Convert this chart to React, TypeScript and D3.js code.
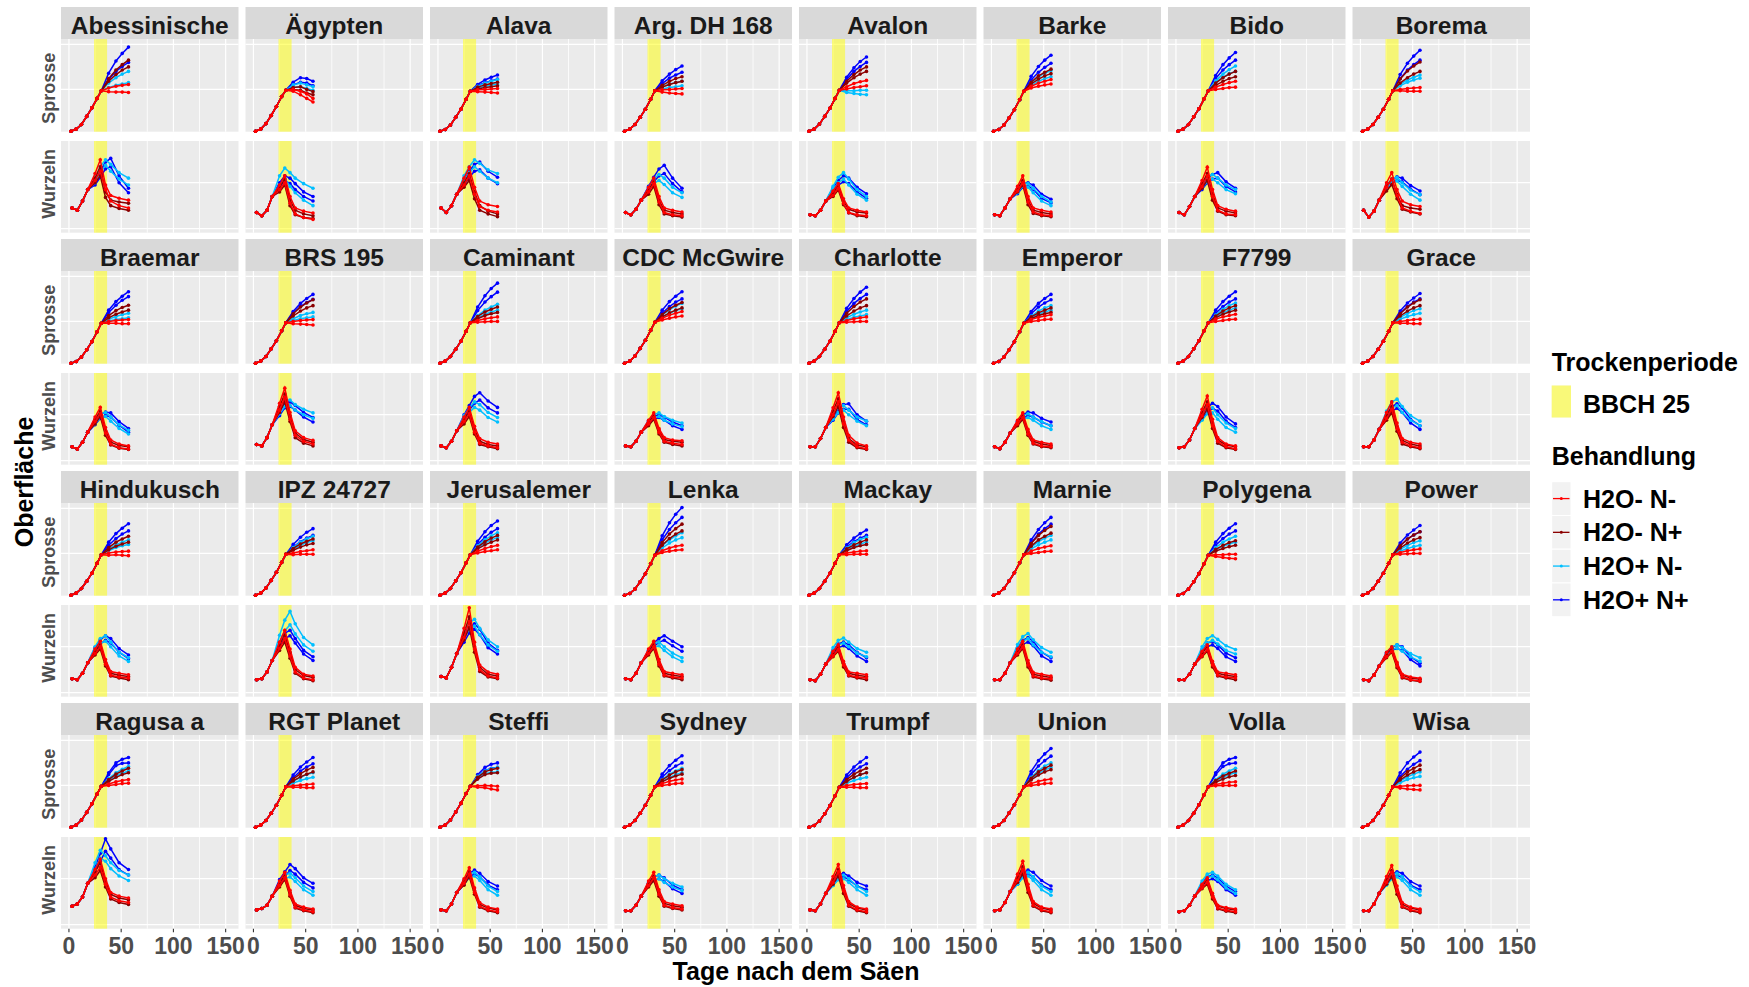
import React from "react";
import * as d3 from "d3";

const GENOTYPES = [
  "Abessinische", "Ägypten", "Alava", "Arg. DH 168", "Avalon", "Barke", "Bido", "Borema",
  "Braemar", "BRS 195", "Caminant", "CDC McGwire", "Charlotte", "Emperor", "F7799", "Grace",
  "Hindukusch", "IPZ 24727", "Jerusalemer", "Lenka", "Mackay", "Marnie", "Polygena", "Power",
  "Ragusa a", "RGT Planet", "Steffi", "Sydney", "Trumpf", "Union", "Volla", "Wisa",
];
const TREATMENTS = ["H2O- N-", "H2O- N+", "H2O+ N-", "H2O+ N+"];
const TREATMENT_COLORS = ["#FF0000", "#8B0000", "#00BFFF", "#0000FF"];
const ORGANS = ["Sprosse", "Wurzeln"];
const X_TICKS = [0, 50, 100, 150];
const X_GRID = [0, 25, 50, 75, 100, 125, 150];
const DROUGHT = [24, 36.5];
const SHOOT_GRID = [100, 200];
const ROOT_GRID = [0, 100];

const SHOOT_DAYS_EARLY = [2, 7, 12, 17, 22, 27, 31];
const SHOOT_DAYS_LATE = [38, 45, 51, 57];
const ROOT_DAYS_EARLY = [3, 8, 13, 18];
const ROOT_DAYS_LATE = [25, 30, 35, 40, 48, 57];

// shoot area, shared part (all treatments), one row per genotype
const SHOOT_EARLY = [
  [7, 12, 22, 40, 59, 80, 97], [7, 12, 24, 42, 62, 84, 98], [7, 11, 21, 38, 56, 78, 96], [7, 12, 22, 38, 56, 78, 97],
  [7, 12, 23, 40, 58, 80, 98], [7, 11, 21, 37, 55, 77, 96], [7, 12, 22, 39, 57, 79, 97], [7, 12, 22, 38, 56, 78, 97],
  [7, 11, 21, 37, 55, 77, 96], [7, 12, 22, 39, 57, 79, 97], [7, 12, 22, 38, 56, 78, 97], [7, 12, 23, 40, 58, 80, 98],
  [7, 12, 22, 38, 56, 78, 97], [7, 11, 21, 37, 55, 77, 96], [7, 12, 22, 39, 57, 79, 97], [7, 12, 22, 38, 56, 78, 97],
  [7, 12, 22, 38, 56, 78, 97], [7, 12, 23, 40, 58, 80, 98], [7, 12, 22, 39, 57, 79, 97], [7, 11, 21, 37, 55, 77, 96],
  [7, 12, 22, 38, 56, 78, 97], [7, 12, 22, 39, 57, 79, 97], [7, 11, 21, 37, 55, 77, 96], [7, 12, 22, 38, 56, 78, 97],
  [7, 12, 23, 40, 59, 81, 98], [7, 12, 22, 38, 56, 78, 97], [7, 12, 23, 41, 60, 82, 98], [7, 12, 22, 38, 56, 78, 97],
  [7, 11, 21, 37, 55, 77, 96], [7, 12, 22, 39, 57, 79, 97], [7, 12, 22, 38, 57, 79, 97], [7, 12, 22, 38, 56, 78, 97],
];

// shoot area after day 31: per genotype [replicate A (4 days), replicate B (4 days)]
const SHOOT_DRY_NMINUS = [
  [95, 94, 94, 93, 103, 107, 109, 111], [96, 88, 80, 72, 100, 96, 90, 80], [95, 94, 93, 92, 99, 100, 101, 102], [94, 92, 91, 90, 99, 100, 101, 102],
  [101, 104, 106, 108, 106, 113, 117, 120], [103, 107, 110, 112, 107, 114, 118, 122], [100, 102, 104, 105, 105, 111, 115, 118], [97, 96, 96, 96, 100, 102, 103, 104],
  [96, 96, 95, 95, 100, 102, 103, 104], [95, 94, 93, 92, 100, 102, 103, 104], [98, 99, 100, 100, 102, 106, 108, 110], [103, 107, 110, 112, 107, 114, 118, 122],
  [98, 99, 100, 100, 102, 106, 108, 110], [100, 102, 104, 105, 104, 109, 112, 115], [100, 102, 104, 105, 105, 110, 113, 116], [96, 96, 95, 95, 100, 102, 104, 105],
  [96, 97, 96, 95, 101, 103, 104, 105], [97, 98, 98, 98, 101, 104, 106, 108], [101, 104, 106, 108, 105, 111, 115, 118], [102, 105, 107, 108, 106, 112, 116, 118],
  [97, 98, 98, 98, 101, 103, 105, 106], [100, 102, 104, 105, 105, 111, 114, 117], [93, 91, 89, 88, 97, 97, 98, 98], [98, 99, 100, 100, 102, 106, 108, 110],
  [100, 102, 104, 105, 103, 108, 111, 113], [96, 96, 95, 95, 99, 101, 102, 103], [96, 95, 92, 90, 99, 100, 99, 98], [100, 102, 104, 105, 104, 109, 112, 114],
  [96, 96, 95, 95, 100, 102, 103, 104], [100, 102, 104, 105, 104, 109, 112, 114], [99, 100, 100, 100, 102, 105, 107, 108], [94, 92, 91, 90, 98, 99, 100, 100],
];
const SHOOT_DRY_NPLUS = [
  [118, 133, 143, 150, 124, 143, 155, 165], [100, 98, 92, 88, 104, 106, 100, 95], [101, 104, 106, 108, 105, 110, 113, 116], [105, 111, 115, 118, 109, 118, 124, 128],
  [114, 126, 134, 140, 118, 133, 143, 150], [112, 123, 130, 135, 116, 130, 138, 145], [109, 118, 124, 128, 114, 126, 134, 140], [114, 126, 134, 140, 123, 141, 152, 161],
  [108, 116, 121, 125, 113, 124, 131, 136], [112, 123, 130, 135, 117, 132, 141, 148], [106, 113, 117, 120, 111, 121, 127, 132], [110, 119, 125, 130, 115, 128, 136, 142],
  [112, 123, 130, 135, 118, 133, 143, 150], [106, 113, 117, 120, 110, 119, 125, 130], [108, 116, 121, 125, 112, 123, 130, 135], [112, 123, 130, 135, 117, 132, 141, 148],
  [108, 116, 121, 125, 113, 125, 132, 138], [107, 114, 119, 122, 111, 121, 127, 132], [110, 119, 125, 130, 114, 126, 134, 140], [118, 133, 143, 150, 124, 143, 155, 165],
  [106, 113, 117, 120, 110, 119, 125, 130], [116, 130, 138, 145, 122, 140, 151, 160], [105, 111, 115, 118, 109, 118, 124, 128], [112, 123, 130, 135, 117, 132, 141, 148],
  [109, 118, 124, 128, 113, 125, 132, 138], [110, 119, 125, 130, 114, 126, 134, 140], [114, 124, 127, 128, 118, 130, 135, 138], [108, 116, 121, 125, 112, 123, 130, 135],
  [109, 118, 124, 128, 113, 125, 132, 138], [112, 123, 130, 135, 116, 130, 138, 145], [107, 114, 119, 122, 111, 121, 127, 132], [112, 123, 130, 135, 116, 130, 138, 145],
];
const SHOOT_WET_NMINUS = [
  [104, 109, 112, 115, 114, 126, 134, 140], [104, 106, 102, 98, 110, 114, 110, 106], [103, 107, 110, 112, 107, 114, 118, 122], [101, 104, 106, 108, 106, 112, 115, 118],
  [93, 91, 89, 88, 97, 97, 98, 98], [109, 118, 124, 128, 115, 128, 136, 142], [116, 127, 135, 140, 119, 134, 144, 152], [108, 116, 121, 125, 111, 121, 127, 132],
  [101, 104, 106, 108, 105, 111, 115, 118], [102, 106, 108, 110, 106, 113, 117, 120], [108, 116, 121, 125, 113, 125, 132, 138], [109, 118, 124, 128, 114, 126, 134, 140],
  [104, 109, 112, 115, 108, 116, 121, 125], [108, 116, 121, 125, 112, 123, 130, 135], [110, 119, 125, 130, 114, 127, 135, 141], [105, 111, 115, 118, 109, 118, 124, 128],
  [106, 113, 117, 120, 110, 119, 125, 130], [109, 118, 124, 128, 113, 125, 132, 138], [112, 123, 130, 135, 117, 130, 139, 146], [112, 123, 130, 135, 117, 130, 139, 146],
  [108, 116, 121, 125, 112, 124, 131, 136], [110, 119, 125, 130, 114, 126, 134, 140], [108, 116, 121, 125, 113, 125, 132, 138], [105, 111, 115, 118, 109, 118, 124, 128],
  [111, 121, 127, 132, 115, 128, 136, 142], [105, 111, 115, 118, 109, 118, 124, 128], [116, 126, 129, 130, 120, 132, 137, 140], [109, 118, 124, 128, 113, 125, 132, 138],
  [105, 111, 115, 118, 109, 118, 124, 128], [114, 126, 134, 140, 118, 133, 143, 150], [109, 118, 124, 128, 113, 125, 132, 138], [106, 113, 117, 120, 110, 119, 125, 130],
];
const SHOOT_WET_NPLUS = [
  [122, 140, 151, 160, 136, 163, 180, 194], [110, 116, 114, 108, 116, 126, 124, 118], [109, 115, 119, 123, 111, 121, 127, 132], [113, 125, 132, 138, 119, 134, 144, 152],
  [122, 140, 151, 160, 127, 148, 162, 172], [121, 138, 149, 158, 129, 151, 165, 176], [124, 143, 155, 165, 131, 155, 170, 182], [124, 143, 155, 165, 133, 158, 174, 187],
  [120, 136, 147, 155, 125, 144, 156, 166], [118, 133, 142, 149, 122, 140, 151, 160], [124, 143, 155, 165, 132, 157, 173, 185], [118, 133, 143, 150, 125, 144, 156, 166],
  [122, 140, 151, 160, 129, 151, 165, 176], [117, 132, 141, 148, 122, 140, 151, 160], [118, 133, 143, 150, 125, 144, 156, 166], [118, 133, 143, 150, 123, 141, 152, 162],
  [118, 133, 143, 150, 125, 144, 156, 166], [114, 126, 134, 140, 120, 136, 147, 155], [120, 136, 147, 155, 127, 148, 162, 172], [130, 153, 168, 180, 139, 168, 187, 202],
  [114, 126, 134, 140, 119, 134, 144, 152], [124, 143, 155, 165, 130, 153, 168, 180], [118, 133, 143, 150, 125, 144, 156, 166], [117, 132, 141, 148, 123, 141, 152, 162],
  [124, 144, 149, 150, 128, 150, 158, 162], [117, 132, 141, 148, 123, 141, 152, 162], [120, 133, 138, 140, 124, 140, 147, 150], [118, 133, 143, 150, 125, 144, 156, 166],
  [117, 132, 141, 148, 123, 141, 152, 162], [124, 143, 155, 165, 131, 155, 170, 182], [124, 142, 148, 150, 128, 150, 158, 162], [120, 136, 147, 155, 128, 150, 163, 174],
];

// root area, shared early part
const ROOT_EARLY = [
  [45, 40, 60, 85], [35, 28, 40, 70], [45, 35, 50, 75], [35, 30, 42, 62], [30, 28, 40, 60], [30, 28, 45, 65], [35, 30, 48, 70], [40, 25, 38, 62],
  [30, 25, 40, 62], [35, 32, 50, 78], [32, 28, 42, 65], [32, 30, 42, 62], [30, 30, 48, 72], [30, 26, 40, 60], [28, 30, 45, 70], [30, 30, 45, 68],
  [30, 28, 42, 65], [28, 30, 45, 70], [35, 32, 55, 85], [30, 28, 42, 65], [28, 26, 40, 62], [28, 28, 42, 65], [28, 28, 40, 62], [28, 26, 38, 58],
  [40, 45, 60, 90], [32, 35, 42, 62], [32, 30, 45, 70], [30, 30, 42, 62], [32, 30, 45, 68], [30, 32, 48, 72], [28, 30, 42, 62], [30, 30, 45, 68],
];
// root area from day 25: per genotype [replicate A (6 days), replicate B (6 days)]
const ROOT_DRY_NMINUS = [
  [105, 125, 85, 60, 50, 45, 120, 150, 95, 72, 66, 62], [85, 100, 55, 32, 24, 20, 95, 115, 70, 45, 38, 34],
  [95, 115, 75, 48, 40, 36, 110, 134, 90, 60, 52, 48], [80, 98, 58, 35, 30, 28, 90, 110, 70, 45, 40, 36],
  [72, 88, 55, 35, 30, 28, 82, 98, 65, 45, 40, 36], [82, 100, 58, 36, 30, 28, 92, 115, 70, 45, 40, 36],
  [92, 115, 70, 40, 32, 30, 105, 134, 85, 50, 42, 38], [90, 108, 72, 45, 38, 33, 100, 122, 85, 60, 52, 48],
  [85, 102, 60, 36, 28, 25, 95, 116, 72, 45, 36, 32], [110, 138, 90, 55, 42, 36, 125, 158, 105, 65, 50, 44],
  [85, 102, 62, 38, 32, 28, 95, 116, 75, 48, 40, 36], [80, 94, 62, 42, 38, 35, 88, 104, 70, 50, 45, 43],
  [100, 128, 80, 45, 30, 26, 115, 148, 95, 55, 38, 32], [80, 94, 58, 38, 32, 30, 88, 104, 68, 45, 40, 36],
  [98, 122, 76, 42, 30, 26, 112, 141, 90, 50, 36, 32], [92, 112, 70, 40, 32, 28, 105, 128, 82, 48, 40, 36],
  [85, 100, 62, 38, 34, 32, 95, 112, 72, 46, 42, 39], [96, 118, 80, 45, 32, 28, 110, 136, 95, 55, 40, 36],
  [120, 155, 95, 50, 36, 32, 140, 185, 110, 60, 45, 40], [85, 100, 62, 38, 34, 32, 95, 112, 72, 46, 42, 39],
  [80, 94, 60, 38, 34, 32, 90, 104, 68, 45, 42, 39], [85, 100, 60, 36, 32, 30, 95, 112, 70, 44, 40, 36],
  [80, 94, 60, 38, 34, 32, 90, 104, 68, 45, 42, 39], [78, 90, 58, 34, 28, 25, 88, 100, 66, 40, 34, 31],
  [108, 125, 88, 60, 52, 48, 120, 143, 100, 70, 62, 58], [85, 102, 65, 38, 32, 28, 95, 114, 75, 45, 38, 34],
  [90, 110, 70, 40, 32, 28, 100, 124, 80, 48, 38, 34], [85, 102, 66, 42, 37, 34, 95, 114, 76, 50, 45, 41],
  [92, 115, 74, 42, 32, 28, 105, 131, 85, 50, 38, 34], [96, 120, 76, 42, 32, 28, 110, 138, 88, 50, 38, 34],
  [80, 92, 60, 36, 31, 28, 88, 102, 68, 42, 37, 34], [92, 114, 72, 40, 32, 28, 105, 129, 84, 48, 38, 34],
];
const ROOT_DRY_NPLUS = [
  [100, 115, 68, 50, 44, 40, 110, 135, 80, 62, 58, 55], [80, 95, 50, 30, 24, 22, 90, 108, 62, 40, 32, 28],
  [90, 105, 65, 40, 32, 26, 100, 120, 80, 50, 38, 32], [75, 92, 52, 32, 28, 25, 85, 102, 62, 40, 35, 32],
  [70, 84, 52, 34, 28, 26, 78, 92, 60, 42, 36, 34], [80, 95, 52, 33, 28, 26, 88, 105, 62, 40, 35, 32],
  [88, 105, 62, 38, 30, 28, 98, 120, 75, 45, 38, 34], [82, 96, 65, 42, 36, 32, 92, 108, 75, 50, 45, 42],
  [80, 96, 55, 34, 27, 24, 90, 108, 65, 40, 33, 30], [105, 128, 85, 50, 38, 32, 118, 145, 98, 60, 46, 40],
  [80, 96, 58, 35, 30, 26, 90, 108, 68, 42, 35, 32], [76, 90, 58, 40, 35, 32, 84, 98, 66, 46, 42, 40],
  [96, 118, 72, 40, 28, 24, 108, 135, 85, 48, 34, 30], [76, 90, 55, 36, 30, 28, 84, 98, 62, 42, 36, 33],
  [94, 112, 70, 38, 28, 24, 105, 128, 82, 45, 34, 30], [88, 104, 64, 36, 30, 26, 98, 118, 74, 44, 36, 32],
  [82, 95, 58, 36, 32, 28, 90, 105, 66, 42, 38, 35], [92, 110, 75, 42, 30, 26, 104, 125, 88, 50, 37, 33],
  [115, 142, 88, 46, 34, 30, 130, 165, 100, 55, 40, 36], [82, 96, 58, 36, 32, 28, 90, 106, 66, 42, 38, 35],
  [78, 90, 56, 36, 32, 28, 86, 100, 64, 42, 38, 35], [82, 96, 56, 34, 30, 27, 90, 106, 64, 40, 36, 33],
  [78, 90, 56, 36, 32, 28, 86, 100, 64, 42, 38, 35], [76, 88, 54, 32, 27, 24, 84, 96, 62, 38, 32, 29],
  [102, 118, 82, 56, 48, 44, 115, 135, 95, 66, 58, 54], [82, 98, 62, 36, 30, 26, 90, 108, 70, 42, 35, 32],
  [86, 104, 66, 38, 30, 26, 95, 116, 74, 44, 36, 32], [82, 96, 62, 40, 35, 32, 90, 106, 70, 46, 41, 38],
  [88, 106, 68, 40, 30, 26, 98, 120, 78, 46, 36, 32], [92, 110, 70, 40, 30, 26, 102, 126, 80, 46, 36, 32],
  [78, 88, 56, 34, 29, 26, 85, 98, 64, 40, 35, 32], [88, 104, 66, 38, 30, 26, 98, 118, 76, 44, 36, 32],
];
const ROOT_WET_NMINUS = [
  [100, 122, 138, 125, 108, 95, 110, 135, 150, 140, 122, 110], [95, 110, 92, 78, 62, 50, 115, 132, 122, 110, 98, 88],
  [105, 122, 135, 125, 110, 100, 115, 135, 150, 142, 128, 120], [82, 98, 105, 96, 78, 68, 90, 108, 118, 110, 90, 78],
  [85, 100, 108, 95, 75, 62, 92, 112, 122, 108, 85, 70], [78, 92, 90, 78, 60, 50, 85, 100, 98, 88, 70, 58],
  [88, 102, 108, 100, 85, 76, 95, 112, 118, 110, 95, 85], [88, 100, 104, 92, 75, 62, 95, 108, 112, 100, 84, 74],
  [80, 94, 96, 86, 70, 58, 88, 102, 105, 95, 78, 66], [102, 118, 120, 110, 100, 92, 112, 130, 132, 122, 112, 104],
  [90, 105, 116, 110, 94, 84, 98, 115, 128, 122, 105, 94], [82, 94, 96, 88, 80, 74, 88, 100, 104, 96, 88, 82],
  [90, 105, 110, 100, 86, 76, 98, 115, 120, 110, 95, 86], [78, 90, 94, 88, 76, 68, 85, 98, 102, 95, 85, 76],
  [88, 102, 104, 90, 72, 62, 95, 112, 115, 100, 82, 70], [98, 115, 120, 105, 88, 76, 108, 128, 134, 118, 98, 86],
  [92, 108, 112, 100, 80, 68, 100, 118, 124, 110, 88, 76], [110, 135, 148, 128, 104, 90, 125, 158, 177, 150, 120, 104],
  [118, 138, 145, 126, 104, 90, 130, 152, 160, 140, 115, 100], [85, 98, 102, 92, 78, 68, 92, 106, 110, 100, 86, 76],
  [90, 104, 108, 100, 86, 78, 98, 114, 119, 110, 96, 88], [96, 112, 118, 104, 88, 78, 105, 122, 129, 115, 98, 88],
  [92, 108, 114, 106, 92, 84, 100, 118, 124, 116, 102, 94], [82, 94, 97, 90, 78, 68, 88, 100, 104, 98, 85, 76],
  [120, 145, 138, 122, 106, 96, 135, 162, 150, 135, 118, 108], [85, 100, 104, 94, 76, 64, 92, 108, 112, 102, 84, 72],
  [88, 102, 106, 96, 76, 64, 95, 110, 114, 104, 84, 72], [86, 98, 100, 92, 82, 74, 92, 105, 108, 100, 90, 82],
  [85, 98, 100, 92, 76, 64, 92, 105, 108, 100, 84, 72], [88, 102, 106, 96, 76, 64, 95, 110, 114, 104, 84, 72],
  [88, 102, 106, 98, 80, 68, 95, 110, 114, 106, 88, 76], [86, 100, 104, 96, 76, 64, 94, 108, 112, 104, 84, 72],
];
const ROOT_WET_NPLUS = [
  [95, 112, 130, 135, 100, 78, 105, 125, 145, 153, 115, 88], [90, 105, 98, 85, 70, 60, 100, 115, 110, 98, 80, 70],
  [95, 112, 125, 128, 110, 98, 105, 125, 140, 145, 125, 112], [85, 102, 115, 120, 98, 80, 92, 112, 130, 138, 110, 88],
  [80, 95, 102, 98, 80, 66, 88, 105, 115, 110, 90, 76], [76, 90, 92, 86, 66, 56, 82, 98, 100, 95, 75, 64],
  [85, 100, 108, 110, 92, 80, 92, 108, 118, 122, 102, 88], [86, 98, 105, 102, 86, 74, 92, 106, 113, 110, 94, 82],
  [78, 92, 98, 95, 77, 62, 85, 100, 106, 104, 85, 70], [98, 115, 118, 110, 95, 84, 108, 125, 128, 120, 105, 94],
  [92, 110, 125, 132, 115, 104, 100, 120, 140, 148, 130, 116], [78, 90, 94, 88, 76, 68, 85, 96, 100, 95, 84, 76],
  [88, 104, 112, 112, 90, 78, 95, 112, 122, 124, 100, 86], [80, 92, 98, 95, 84, 76, 86, 100, 106, 104, 92, 84],
  [90, 105, 114, 108, 86, 72, 98, 115, 125, 118, 95, 80], [92, 108, 114, 105, 82, 68, 100, 118, 124, 115, 90, 76],
  [90, 106, 114, 108, 88, 74, 98, 115, 124, 118, 96, 82], [100, 118, 124, 108, 84, 70, 110, 130, 136, 118, 92, 78],
  [110, 130, 138, 126, 98, 84, 122, 142, 150, 138, 108, 92], [86, 100, 110, 114, 102, 90, 92, 108, 118, 124, 112, 100],
  [85, 98, 102, 96, 80, 68, 92, 106, 110, 104, 88, 76], [90, 105, 110, 102, 80, 68, 98, 114, 120, 112, 88, 76],
  [86, 100, 104, 96, 78, 68, 94, 108, 112, 104, 86, 76], [80, 92, 96, 92, 72, 58, 86, 98, 104, 100, 78, 64],
  [115, 138, 160, 145, 120, 108, 125, 155, 187, 165, 135, 120], [90, 105, 118, 110, 92, 80, 98, 115, 131, 122, 102, 90],
  [88, 104, 110, 104, 86, 76, 96, 112, 119, 112, 94, 84], [84, 96, 100, 94, 78, 68, 90, 104, 108, 102, 86, 76],
  [86, 100, 104, 98, 84, 76, 94, 108, 112, 106, 92, 84], [88, 104, 110, 104, 86, 76, 96, 112, 119, 114, 96, 84],
  [84, 96, 100, 94, 76, 64, 90, 104, 108, 102, 84, 72], [88, 102, 106, 104, 86, 76, 95, 110, 115, 112, 94, 84],
];

const SHOOT_LATE = [SHOOT_DRY_NMINUS, SHOOT_DRY_NPLUS, SHOOT_WET_NMINUS, SHOOT_WET_NPLUS];
const ROOT_LATE = [ROOT_DRY_NMINUS, ROOT_DRY_NPLUS, ROOT_WET_NMINUS, ROOT_WET_NPLUS];

const FONT = "'Liberation Sans', Arial, Helvetica, sans-serif";
const W = 1749;
const H = 987;
const COL_X0 = 61;
const COL_STEP = 184.5;
const PANEL_W = 177.5;
const ROW_Y0 = 7;
const ROW_STEP = 232;
const STRIP_H = 32;
const SHOOT_TOP = 32;
const SHOOT_H = 92.7;
const ROOT_TOP = 134;
const ROOT_H = 91.7;
const X_DOMAIN = [-7.6, 162.3];
const SHOOT_DOMAIN = [6, 212];
const ROOT_DOMAIN = [-9, 191];

type Series = { color: string; pts: [number, number][] };

function buildSeries(g: number, organ: number): Series[] {
  const out: Series[] = [];
  const order = [3, 2, 1, 0];
  for (const t of order) {
    for (let rep = 0; rep < 2; rep++) {
      const earlyDays = organ === 0 ? SHOOT_DAYS_EARLY : ROOT_DAYS_EARLY;
      const lateDays = organ === 0 ? SHOOT_DAYS_LATE : ROOT_DAYS_LATE;
      const early = organ === 0 ? SHOOT_EARLY[g] : ROOT_EARLY[g];
      const lateAll = (organ === 0 ? SHOOT_LATE : ROOT_LATE)[t][g];
      const n = lateDays.length;
      const late = lateAll.slice(rep * n, rep * n + n);
      const pts: [number, number][] = [];
      earlyDays.forEach((d, i) => pts.push([d, early[i]]));
      lateDays.forEach((d, i) => pts.push([d, late[i]]));
      out.push({ color: TREATMENT_COLORS[t], pts });
    }
  }
  return out;
}

function Panel({ g, organ, x0, top, h }: { g: number; organ: number; x0: number; top: number; h: number }) {
  const x = d3.scaleLinear().domain(X_DOMAIN).range([x0, x0 + PANEL_W]);
  const y = d3
    .scaleLinear()
    .domain(organ === 0 ? SHOOT_DOMAIN : ROOT_DOMAIN)
    .range([top + h, top]);
  const grid = organ === 0 ? SHOOT_GRID : ROOT_GRID;
  const line = d3
    .line<[number, number]>()
    .x((d) => x(d[0]))
    .y((d) => y(d[1]));
  const series = buildSeries(g, organ);
  return (
    <g>
      <rect x={x0} y={top} width={PANEL_W} height={h} fill="#EBEBEB" />
      {X_GRID.map((v) => (
        <line key={"vx" + v} x1={x(v)} x2={x(v)} y1={top} y2={top + h} stroke="#FFFFFF" strokeWidth={v % 50 === 0 ? 1.2 : 0.8} />
      ))}
      {grid.map((v) => (
        <line key={"hy" + v} x1={x0} x2={x0 + PANEL_W} y1={y(v)} y2={y(v)} stroke="#FFFFFF" strokeWidth={1.2} />
      ))}
      <rect x={x(DROUGHT[0])} y={top} width={x(DROUGHT[1]) - x(DROUGHT[0])} height={h} fill="#FFFF00" opacity={0.5} />
      {series.map((s, i) => (
        <g key={i}>
          <path d={line(s.pts) || ""} fill="none" stroke={s.color} strokeWidth={1.5} />
          {s.pts.map((p, j) => (
            <circle key={j} cx={x(p[0])} cy={y(p[1])} r={1.8} fill={s.color} />
          ))}
        </g>
      ))}
    </g>
  );
}

export default function App() {
  const facets = GENOTYPES.map((name, g) => {
    const c = g % 8;
    const r = Math.floor(g / 8);
    const x0 = COL_X0 + c * COL_STEP;
    const rowTop = ROW_Y0 + r * ROW_STEP;
    const sTop = rowTop + SHOOT_TOP;
    const rTop = rowTop + ROOT_TOP;
    const xs = d3.scaleLinear().domain(X_DOMAIN).range([x0, x0 + PANEL_W]);
    return (
      <g key={name}>
        <rect x={x0} y={rowTop} width={PANEL_W} height={STRIP_H} fill="#D9D9D9" />
        <text x={x0 + PANEL_W / 2} y={rowTop + 26.5} textAnchor="middle" fontFamily={FONT} fontWeight="bold" fontSize={24.5} fill="#1A1A1A">
          {name}
        </text>
        <Panel g={g} organ={0} x0={x0} top={sTop} h={SHOOT_H} />
        <Panel g={g} organ={1} x0={x0} top={rTop} h={ROOT_H} />
        {c === 0 &&
          [sTop + SHOOT_H / 2 + 3, rTop + ROOT_H / 2 - 3].map((cy, k) => (
            <text key={k} transform={`translate(54.5,${cy}) rotate(-90)`} textAnchor="middle" fontFamily={FONT} fontWeight="bold" fontSize={18} fill="#4D4D4D">
              {ORGANS[k]}
            </text>
          ))}
        {r === 3 &&
          X_TICKS.map((t) => (
            <g key={t}>
              <line x1={xs(t)} x2={xs(t)} y1={rTop + ROOT_H} y2={rTop + ROOT_H + 3.5} stroke="#333333" strokeWidth={1.1} />
              <text x={xs(t)} y={954} textAnchor="middle" fontFamily={FONT} fontWeight="bold" fontSize={23} fill="#4D4D4D">
                {t}
              </text>
            </g>
          ))}
      </g>
    );
  });

  const keyTop = 481.7;
  const keyH = 33.75;
  return (
    <svg width={W} height={H} style={{ position: "absolute", left: 0, top: 0, background: "#FFFFFF" }}>
      <rect x={0} y={0} width={W} height={H} fill="#FFFFFF" />
      {facets}
      <text x={796} y={980} textAnchor="middle" fontFamily={FONT} fontWeight="bold" fontSize={25} fill="#000000">
        Tage nach dem Säen
      </text>
      <text transform="translate(33,482) rotate(-90)" textAnchor="middle" fontFamily={FONT} fontWeight="bold" fontSize={25} fill="#000000">
        Oberfläche
      </text>
      <text x={1551.7} y={370.7} fontFamily={FONT} fontWeight="bold" fontSize={25} fill="#000000">
        Trockenperiode
      </text>
      <rect x={1551.7} y={385.5} width={19.3} height={32} fill="#F2F2F2" />
      <rect x={1551.7} y={385.5} width={19.3} height={32} fill="#FFFF00" opacity={0.5} />
      <text x={1583} y={412.7} fontFamily={FONT} fontWeight="bold" fontSize={25} fill="#000000">
        BBCH 25
      </text>
      <text x={1551.7} y={465} fontFamily={FONT} fontWeight="bold" fontSize={25} fill="#000000">
        Behandlung
      </text>
      {TREATMENTS.map((t, i) => {
        const cy = keyTop + (i + 0.5) * keyH;
        return (
          <g key={t}>
            <rect x={1551.7} y={keyTop + i * keyH} width={19.3} height={keyH} fill="#F2F2F2" stroke="#FFFFFF" strokeWidth={1} />
            <line x1={1553} x2={1569.5} y1={cy} y2={cy} stroke={TREATMENT_COLORS[i]} strokeWidth={1.3} />
            <circle cx={1561.3} cy={cy} r={1.5} fill={TREATMENT_COLORS[i]} />
            <text x={1583} y={cy + 9} fontFamily={FONT} fontWeight="bold" fontSize={25} fill="#000000">
              {t}
            </text>
          </g>
        );
      })}
    </svg>
  );
}
